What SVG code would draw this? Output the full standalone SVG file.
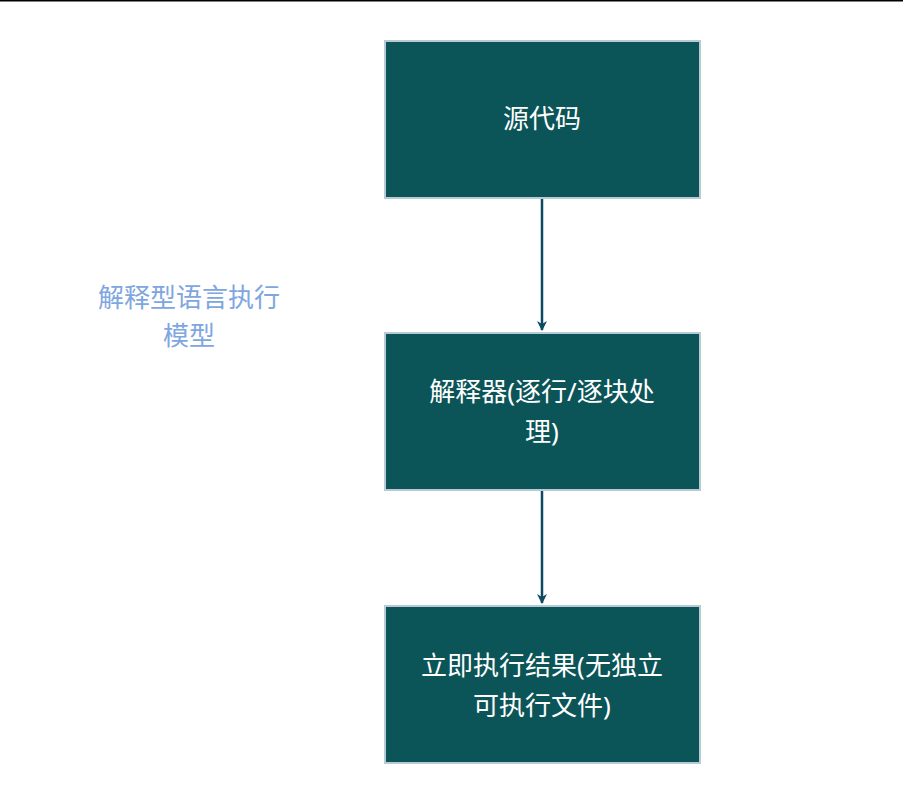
<svg xmlns="http://www.w3.org/2000/svg" width="903" height="810" viewBox="0 0 903 810">
<style>
.box{fill:#0b5458;stroke:#b7cad6;stroke-width:2}
.t{font-family:"Noto Sans","Noto Sans CJK SC",sans-serif;font-size:26px;fill:#ffffff;text-anchor:middle}
.l{font-family:"Noto Sans","Noto Sans CJK SC",sans-serif;font-size:26px;fill:#7ea6e0;text-anchor:middle}
.c{stroke:#0c4a64;stroke-width:2.5;fill:none}
</style>
<defs><marker id="a" viewBox="0 0 20 20" refX="18" refY="10" markerWidth="10" markerHeight="10" markerUnits="userSpaceOnUse" orient="auto"><path d="M0,0 L20,10 L0,20 L6,10 Z" fill="#0c4a64"/></marker></defs>
<rect width="903" height="810" fill="#fff"/>
<line x1="0" y1="0.5" x2="903" y2="0.5" stroke="#000" stroke-width="2"/>
<g id="connectors">
<path class="c" d="M542,199 V330" marker-end="url(#a)" style="stroke-width:2.5"/>
<path class="c" d="M542,491 V603" marker-end="url(#a)"/>
</g>
<g id="n1"><rect class="box" x="385" y="41" width="315" height="157"/><text class="t" x="542" y="128">源代码</text></g>
<g id="n2"><rect class="box" x="385" y="333" width="315" height="157"/><text class="t" x="542" y="401">解释器(逐行/逐块处</text><text class="t" x="542" y="441">理)</text></g>
<g id="n3"><rect class="box" x="385" y="606" width="315" height="157"/><text class="t" x="542" y="675">立即执行结果(无独立</text><text class="t" x="542" y="715">可执行文件)</text></g>
<g id="label"><text class="l" x="189" y="307">解释型语言执行</text><text class="l" x="189" y="345">模型</text></g>
</svg>
